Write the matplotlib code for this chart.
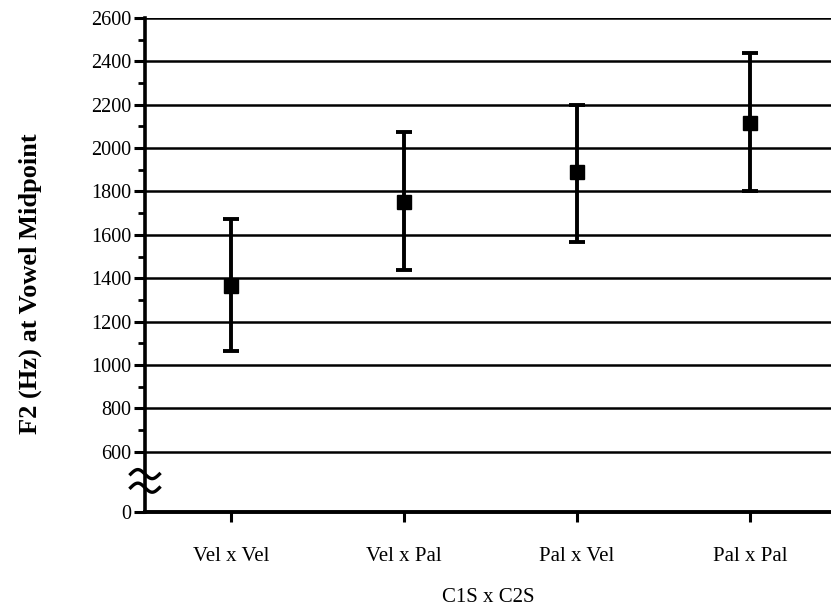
import numpy as np
import matplotlib
matplotlib.use("Agg")
import matplotlib.pyplot as plt
from matplotlib.ticker import FixedLocator
import matplotlib.transforms as mtransforms

plt.rcParams['font.family'] = ['Liberation Serif', 'DejaVu Serif']

# data
categories = ["Vel x Vel", "Vel x Pal", "Pal x Vel", "Pal x Pal"]
f2_mean = [1365, 1750, 1890, 2115]
f2_low = [1065, 1440, 1565, 1800]
f2_high = [1675, 2075, 2200, 2437]

# broken y axis: everything below 600 squeezed into a small gap
BREAK_AT = 600
BREAK_BASE = 322


def fwd(y):
    y = np.asarray(y, dtype=float)
    return np.where(y >= BREAK_AT, y, BREAK_BASE + y * (BREAK_AT - BREAK_BASE) / BREAK_AT)


def inv(z):
    z = np.asarray(z, dtype=float)
    return np.where(z >= BREAK_AT, z, (z - BREAK_BASE) * BREAK_AT / (BREAK_AT - BREAK_BASE))


fig = plt.figure(figsize=(8.31, 6.12), dpi=100)
ax = fig.add_axes([145 / 831, 1 - 512 / 612, 1 - 145 / 831, (512 - 18) / 612])
ax.set_yscale('function', functions=(fwd, inv))
ax.set_ylim(0, 2600)
ax.set_xlim(-0.5, 3.47)

# gridlines from 600 up
grid_vals = np.arange(600, 2601, 200)
for g in grid_vals:
    ax.axhline(g, color='black', lw=1.8, zorder=1)

x = np.arange(len(categories))
mean = np.array(f2_mean)
yerr = [mean - np.array(f2_low), np.array(f2_high) - mean]
ax.errorbar(x, mean, yerr=yerr, fmt='s', color='black', ms=10, elinewidth=2.8,
            capsize=6, capthick=2.8, zorder=3)

ax.yaxis.set_major_locator(FixedLocator([0] + list(grid_vals)))
ax.yaxis.set_minor_locator(FixedLocator(np.arange(700, 2600, 200)))
ax.set_yticklabels(['0'] + [str(v) for v in grid_vals])
ax.tick_params(axis='y', which='major', length=8, width=2.2, labelsize=14.5, pad=2)
ax.tick_params(axis='y', which='minor', length=5, width=2.0)

ax.set_xticks(x)
ax.set_xticklabels(categories)
ax.tick_params(axis='x', which='major', length=7, width=2.2, labelsize=15, pad=18)

for s in ['top', 'right']:
    ax.spines[s].set_visible(False)
ax.spines['left'].set_linewidth(2.6)
ax.spines['bottom'].set_linewidth(2.8)

# axis break squiggles
trans = mtransforms.blended_transform_factory(ax.transAxes, ax.transData)
t = np.linspace(-1, 1, 60)
for yc in [242, 377]:
    xs = t * 0.021
    ys = yc - 45 * np.sin(t * np.pi)
    ax.plot(xs, ys, color='black', lw=2.4, transform=trans, clip_on=False, zorder=4)

ax.set_xlabel("C1S x C2S", fontsize=15, labelpad=16)
fig.text(30 / 831, 1 - 284 / 612, "F2 (Hz) at Vowel Midpoint", rotation=90,
         fontsize=19, fontweight='bold', ha='center', va='center')

fig.savefig("out.png", dpi=100)
